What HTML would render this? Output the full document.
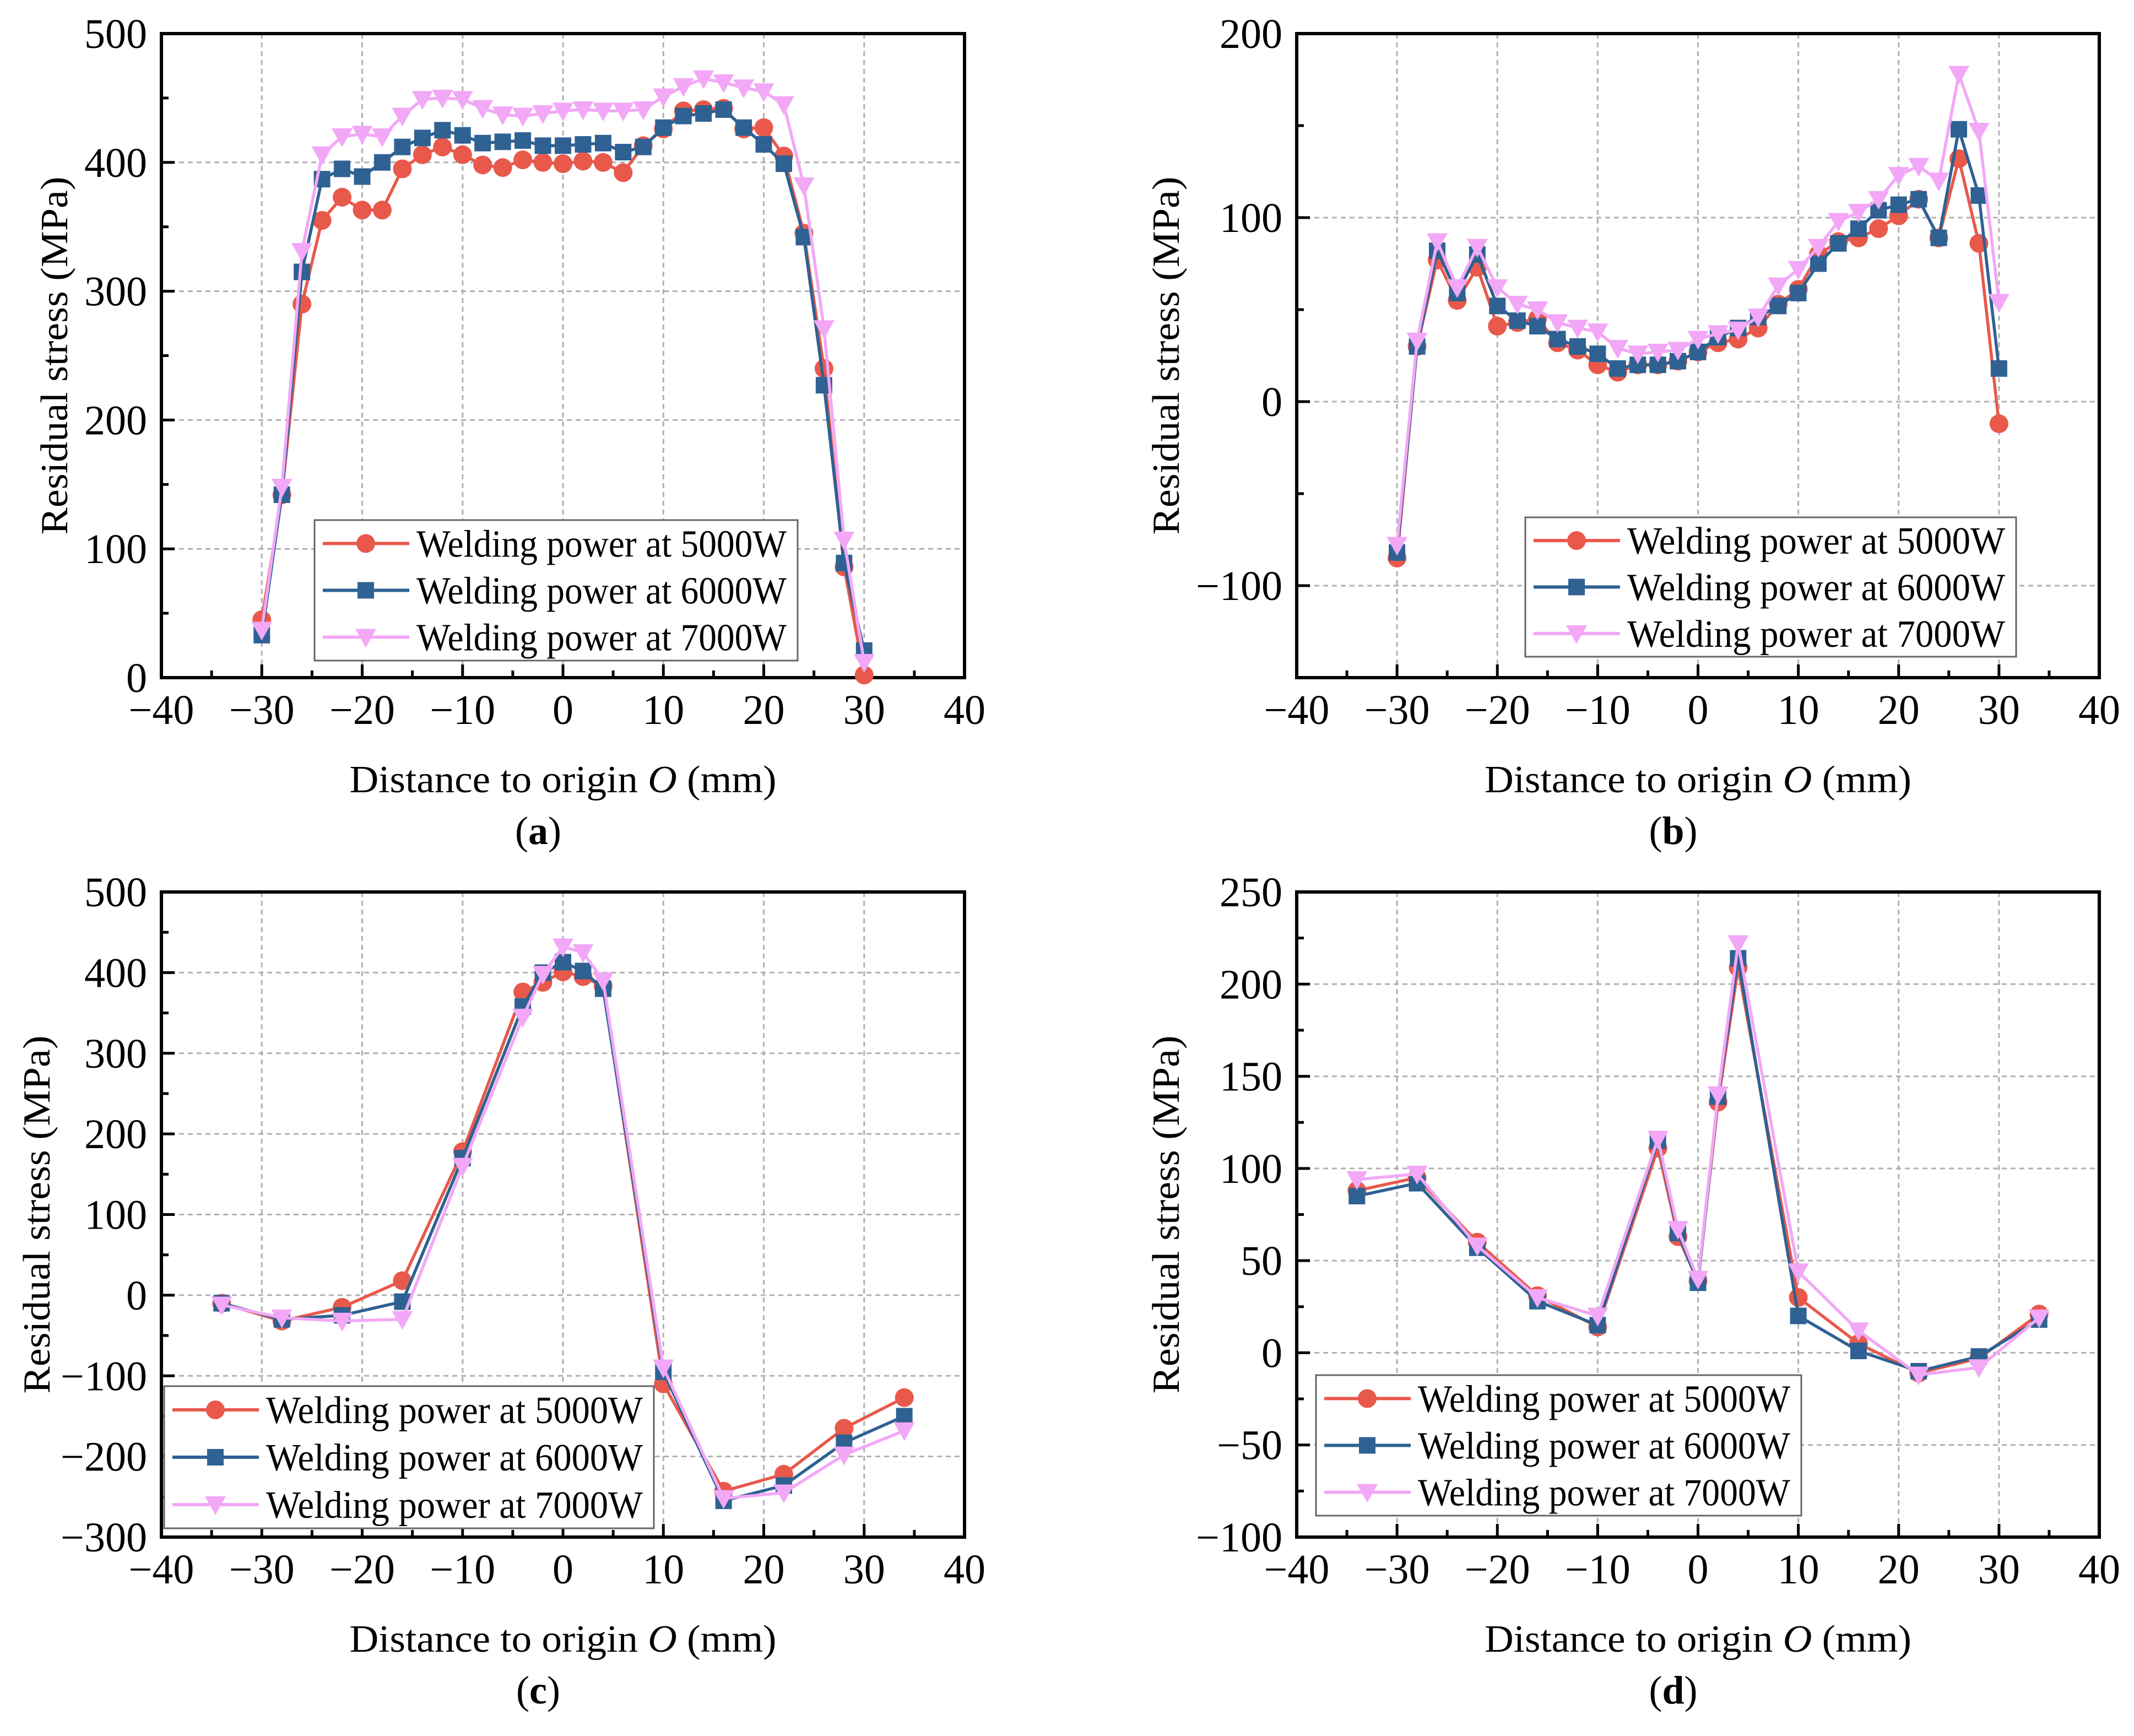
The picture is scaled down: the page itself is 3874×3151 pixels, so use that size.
<!DOCTYPE html>
<html><head><meta charset="utf-8"><style>
html,body{margin:0;padding:0;background:#fff;}
svg{display:block;font-family:"Liberation Serif",serif;}
</style></head><body>
<svg id="fig" width="3874" height="3151" viewBox="0 0 3874 3151" xmlns="http://www.w3.org/2000/svg"></svg>
<script>
// ---- data ----
const xA = [-30,-28,-26,-24,-22,-20,-18,-16,-14,-12,-10,-8,-6,-4,-2,0,2,4,6,8,10,12,14,16,18,20,22,24,26,28,30];
const a5000 = [45,142,290,355,373,363,363,395,406,412,406,398,396,402,400,399,401,400,392,413,426,440,441,442,426,427,405,345,240,86,2];
const a6000 = [33,142,315,387,395,389,400,412,419,425,421,415,416,417,413,413,414,415,408,412,427,436,438,441,427,414,399,342,227,89,21];
const a7000 = [37,148,331,406,420,422,420,436,449,450,449,442,437,436,438,440,441,440,440,441,451,459,465,462,458,455,445,382,271,107,12];
const xB = [-30,-28,-26,-24,-22,-20,-18,-16,-14,-12,-10,-8,-6,-4,-2,0,2,4,6,8,10,12,14,16,18,20,22,24,26,28,30];
const b5000 = [-85,30,77,55,73,41,43,45,32,28,20,16,20,20,22,27,32,34,40,53,61,80,87,89,94,101,110,89,132,86,-12];
const b6000 = [-82,30,82,59,80,52,44,41,34,30,26,18,20,20,22,27,35,40,46,52,59,75,86,94,104,107,110,89,148,112,18];
const b7000 = [-78,33,87,62,84,62,53,50,43,40,38,29,26,27,28,34,37,39,46,63,72,84,98,103,110,123,128,120,178,147,54];
const xC = [-34,-28,-22,-16,-10,-4,-2,0,2,4,10,16,22,28,34];
const c5000 = [-10,-32,-15,18,178,376,388,401,395,383,-110,-243,-222,-165,-127];
const c6000 = [-10,-30,-25,-8,170,358,400,413,402,380,-95,-255,-236,-183,-150];
const c7000 = [-12,-28,-32,-30,160,345,398,432,425,390,-90,-252,-245,-198,-168];
const xD = [-34,-28,-22,-16,-10,-4,-2,0,2,4,10,16,22,28,34];
const d5000 = [88,95,60,31,14,111,63,39,136,209,30,5,-11,-3,21];
const d6000 = [85,92,57,28,15,115,65,38,139,214,20,1,-10,-2,18];
const d7000 = [94,97,58,30,20,116,67,40,140,222,44,12,-12,-8,19];
const xTicks = [-40,-30,-20,-10,0,10,20,30,40];
const yTicksA = [0,100,200,300,400,500];
const yTicksB = [-100,0,100,200];
const yTicksC = [-300,-200,-100,0,100,200,300,400,500];
const yTicksD = [-100,-50,0,50,100,150,200,250];
const seriesNames = ["Welding power at 5000W","Welding power at 6000W","Welding power at 7000W"];

const NS="http://www.w3.org/2000/svg";
const svg=document.getElementById('fig');
const COLORS=["#e8594b","#2f6193","#f2a8f6"];
function mk(tag,attrs,parent){const e=document.createElementNS(NS,tag);for(const k in attrs)e.setAttribute(k,attrs[k]);(parent||svg).appendChild(e);return e;}
function fmt(v){return v<0?"\u2212"+Math.abs(v):String(v);}

function marker(g,type,cx,cy,col){
  let m;
  if(type===0){m=mk('circle',{cx:cx,cy:cy,r:17,fill:col},g);}
  else if(type===1){m=mk('rect',{x:cx-15,y:cy-15,width:30,height:30,fill:col},g);}
  else {m=mk('polygon',{points:(cx-19)+','+(cy-15)+' '+(cx+19)+','+(cy-15)+' '+cx+','+(cy+19),fill:col},g);}
  return m;
}

function panel(id,L,R,T,B,ymin,ymax,yTicks,yMinorStep,xs,series,leg,letter,ytitleX){
  const g=mk('g',{});
  
  
  const sx=v=>L+(v+40)/80*(R-L);
  const sy=v=>B-(v-ymin)/(ymax-ymin)*(B-T);
  const grid=mk('g',{stroke:"#b0b0b0","stroke-width":3,"stroke-dasharray":"9,7"},g);
  
  
  xTicks.forEach(t=>{if(t>-40&&t<40)mk('line',{x1:sx(t),x2:sx(t),y1:T,y2:B},grid);});
  yTicks.forEach(t=>{if(t>ymin&&t<ymax)mk('line',{x1:L,x2:R,y1:sy(t),y2:sy(t)},grid);});
  const tk=mk('g',{stroke:"#000","stroke-width":5},g);
  
  
  for(let v=-40;v<=40;v+=5){const major=v%10===0;mk('line',{x1:sx(v),x2:sx(v),y1:B,y2:B-(major?24:13)},tk);}
  for(let v=ymin;v<=ymax+0.001;v+=yMinorStep){const major=yTicks.indexOf(v)>=0;mk('line',{x1:L,x2:L+(major?24:13),y1:sy(v),y2:sy(v)},tk);}
  const fr=mk('rect',{x:L,y:T,width:R-L,height:B-T,fill:"none",stroke:"#000","stroke-width":6},g);
  
  
  const xl=mk('g',{"font-size":76,"text-anchor":"middle",fill:"#000"},g);
  
  
  xTicks.forEach(t=>{const e=mk('text',{x:sx(t),y:B+84},xl);e.textContent=fmt(t);});
  const yl=mk('g',{"font-size":76,"text-anchor":"end",fill:"#000"},g);
  
  
  yTicks.forEach(t=>{const e=mk('text',{x:L-26,y:sy(t)+26},yl);e.textContent=fmt(t);});
  const xt=mk('text',{x:(L+R)/2,y:B+208,"font-size":70,"text-anchor":"middle",textLength:775,lengthAdjust:"spacingAndGlyphs"},g);
  
  
  xt.innerHTML='Distance to origin <tspan font-style="italic">O</tspan> (mm)';
  const cy=(T+B)/2;
  const yt=mk('text',{x:ytitleX,y:cy,"font-size":70,"text-anchor":"middle",transform:'rotate(-90 '+ytitleX+' '+cy+')',textLength:650,lengthAdjust:"spacingAndGlyphs"},g);
  
  
  yt.textContent='Residual stress (MPa)';
  const lb=mk('text',{x:(L+R)/2-45,y:B+302,"font-size":72,"text-anchor":"middle"},g);
  
  
  lb.innerHTML='(<tspan font-weight="bold">'+letter+'</tspan>)';
  series.forEach((ys,si)=>{
    const sg=mk('g',{},g);
    
    
    const pts=xs.map((x,i)=>sx(x)+','+sy(ys[i])).join(' ');
    const pl=mk('polyline',{points:pts,fill:"none",stroke:COLORS[si],"stroke-width":5.5,"stroke-linejoin":"round"},sg);
    
    
    xs.forEach((x,i)=>{const m=marker(sg,si,sx(x),sy(ys[i]),COLORS[si]);
      
      });
  });
  const [lx0,ly0,lx1,ly1]=leg;
  const lg=mk('g',{},g);
  
  
  mk('rect',{x:lx0,y:ly0,width:lx1-lx0,height:ly1-ly0,fill:"#fff",stroke:"#666","stroke-width":3},lg);
  const rowH=(ly1-ly0)/3;
  seriesNames.forEach((nm,si)=>{
    const ey=ly0+rowH*(si+0.5);
    const eg=mk('g',{},lg);
    
    
    mk('line',{x1:lx0+15,x2:lx0+172,y1:ey,y2:ey,stroke:COLORS[si],"stroke-width":6},eg);
    marker(eg,si,lx0+93,ey,COLORS[si]);
    const t=mk('text',{x:lx0+185,y:ey+24,"font-size":70,textLength:(lx1-lx0)-205,lengthAdjust:"spacingAndGlyphs"},eg);
    t.textContent=nm;
  });
}

panel('a',293,1751,61,1230,0,500,yTicksA,50,xA,[a5000,a6000,a7000],[571,944,1448,1199],'a',122);
panel('b',2354,3811,61,1230,-150,200,yTicksB,50,xB,[b5000,b6000,b7000],[2769,939,3660,1192],'b',2140);
panel('c',293,1751,1619,2790,-300,500,yTicksC,50,xC,[c5000,c6000,c7000],[298,2516,1187,2774],'c',90);
panel('d',2354,3811,1619,2790,-100,250,yTicksD,25,xD,[d5000,d6000,d7000],[2389,2496,3270,2751],'d',2140);
</script>
</body></html>
